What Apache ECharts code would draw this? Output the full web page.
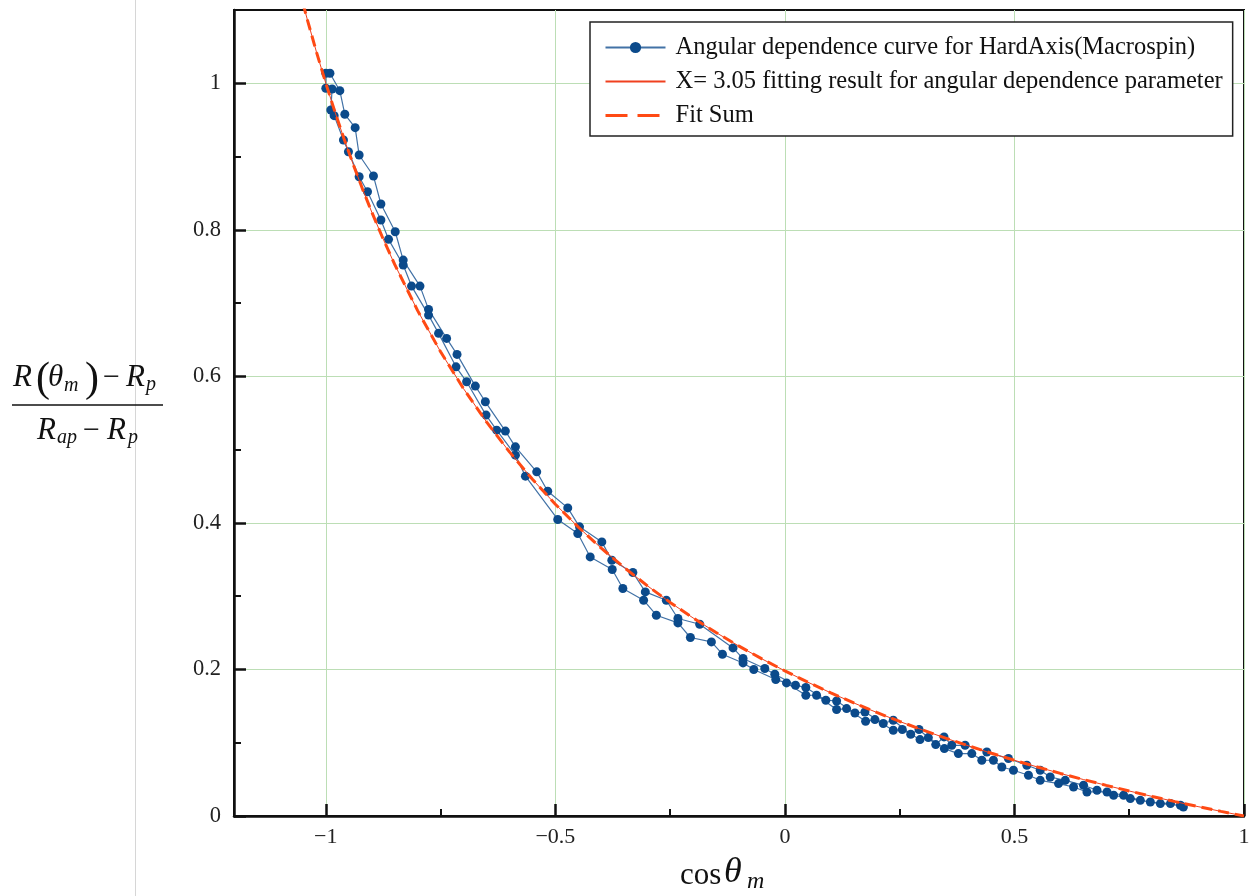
<!DOCTYPE html>
<html><head><meta charset="utf-8">
<script src="https://cdn.jsdelivr.net/npm/echarts@6/dist/echarts.min.js"></script>
<style>html,body{margin:0;padding:0;background:#fff}#c{width:1257px;height:896px}</style>
</head><body><div id="c"></div>
<script>
const xTicks = [-1, -0.5, 0, 0.5, 1];
const xMinorTicks = [-0.75, -0.25, 0.25, 0.75];
const yTicks = [0, 0.2, 0.4, 0.6, 0.8, 1];
const yMinorTicks = [0.1, 0.3, 0.5, 0.7, 0.9];
const seriesNames = [
  'Angular dependence curve for HardAxis(Macrospin)',
  'X= 3.05 fitting result for angular dependence parameter',
  'Fit Sum'
];
// measured sweep, forward branch
const sweepUpX = [-0.991,-0.9695,-0.9586,-0.9361,-0.9274,-0.8962,-0.880,-0.8488,-0.8314,-0.7949,-0.7762,-0.7369,-0.7142,-0.6743,-0.6525,-0.6089,-0.587,-0.5406,-0.5166,-0.473,-0.4474,-0.3988,-0.377,-0.3312,-0.3041,-0.2583,-0.233,-0.1856,-0.113,-0.0912,-0.0438,-0.022,0.0231,0.0456,0.0892,0.1126,0.1525,0.1743,0.2142,0.236,0.274,0.2921,0.3285,0.3466,0.3634,0.3925,0.4398,0.4869,0.527,0.5561,0.5779,0.6106,0.6505,0.6798,0.716,0.7524,0.796,0.8397,0.868];
const sweepUpY = [1.0137,0.9899,0.9577,0.9394,0.9021,0.8734,0.8352,0.7974,0.7587,0.7232,0.6914,0.6518,0.630,0.5867,0.5653,0.5253,0.5038,0.4697,0.4433,0.4205,0.3946,0.3741,0.3491,0.3323,0.3058,0.2945,0.2695,0.2617,0.2294,0.2149,0.2013,0.1935,0.1785,0.1753,0.158,0.157,0.1406,0.142,0.1262,0.1307,0.1116,0.118,0.0975,0.1079,0.0965,0.0965,0.0874,0.0784,0.0692,0.0624,0.0532,0.0487,0.0419,0.0351,0.0283,0.0238,0.0191,0.0169,0.0123];
// measured sweep, return branch (listed from cos=-1 side)
const sweepDownX = [-1.0,-1.0,-0.9863,-0.9891,-0.9819,-0.9616,-0.9507,-0.9274,-0.9092,-0.880,-0.8634,-0.8314,-0.8133,-0.7762,-0.7544,-0.7164,-0.6933,-0.651,-0.6278,-0.587,-0.5652,-0.4948,-0.4511,-0.4241,-0.3761,-0.353,-0.3078,-0.2801,-0.233,-0.2059,-0.1601,-0.1361,-0.0912,-0.0678,-0.0199,0.0035,0.0456,0.0689,0.1126,0.1344,0.1758,0.1961,0.236,0.2557,0.2943,0.3124,0.3473,0.3778,0.4071,0.4289,0.4542,0.4725,0.4978,0.5305,0.5561,0.596,0.6287,0.6579,0.7016,0.7378,0.7742,0.8178,0.8615];
const sweepDownY = [1.0137,0.9932,0.9922,0.9635,0.9558,0.9226,0.9066,0.8725,0.852,0.8134,0.787,0.7519,0.7232,0.6836,0.6587,0.613,0.5926,0.5471,0.5266,0.4925,0.4638,0.4047,0.3856,0.3536,0.3364,0.3105,0.2945,0.274,0.2635,0.2436,0.2376,0.2208,0.2089,0.1999,0.1862,0.1816,0.1648,0.1648,0.1453,0.1466,0.1293,0.1316,0.117,0.118,0.1043,0.107,0.092,0.0852,0.0852,0.0761,0.0761,0.0669,0.0624,0.0556,0.0487,0.0442,0.0396,0.0328,0.0328,0.0283,0.0214,0.0169,0.0146];
// fit curve
const fitX = [-1.05,-1.04,-1.02,-1.0,-0.98,-0.96,-0.94,-0.92,-0.9,-0.875,-0.85,-0.8,-0.75,-0.7,-0.65,-0.6,-0.55,-0.5,-0.45,-0.4,-0.35,-0.3,-0.25,-0.2,-0.15,-0.1,-0.05,0,0.05,0.1,0.15,0.2,0.25,0.3,0.35,0.4,0.45,0.5,0.55,0.6,0.65,0.7,0.75,0.8,0.85,0.9,0.95,1.0];
const fitY = [1.1096,1.0863,1.0418,1.0,0.9607,0.9237,0.8887,0.8556,0.8243,0.7874,0.7528,0.6897,0.6335,0.5832,0.5379,0.4969,0.4596,0.4255,0.3943,0.3655,0.3390,0.3144,0.2915,0.2703,0.2504,0.2318,0.2144,0.1980,0.1826,0.1681,0.1543,0.1413,0.1290,0.1174,0.1063,0.0957,0.0856,0.0760,0.0669,0.0581,0.0498,0.0418,0.0341,0.0267,0.0196,0.0128,0.0063,0];

const measured = [];
sweepUpX.forEach((x, i) => measured.push([x, sweepUpY[i]]));
for (let i = sweepDownX.length - 1; i >= 0; i--) measured.push([sweepDownX[i], sweepDownY[i]]);
const fit = fitX.map((x, i) => [x, fitY[i]]);

const FONT = 'Liberation Serif';
const fmt = v => String(Math.round(v * 100) / 100).replace('-', '\u2212');
const axisCol = '#111';
const gridCol = '#bcdeb5';

const chart = echarts.init(document.getElementById('c'), null, {renderer: 'canvas'});
function txt(text, x, y, size, italic, extra) {
  return Object.assign({
    type: 'text', z: 10,
    style: { text: text, x: x, y: y, fill: '#111', align: 'left', verticalAlign: 'middle',
      font: (italic ? 'italic ' : '') + size + 'px "' + FONT + '"' }
  }, extra || {});
}
chart.setOption({
  animation: false,
  backgroundColor: '#fff',
  grid: { left: 234, right: 13, top: 10, bottom: 80, show: true, borderColor: axisCol, borderWidth: 2, containLabel: false },
  legend: {
    orient: 'vertical', left: 590, top: 22, padding: [13, 10, 8, 14], itemGap: 9,
    itemWidth: 60, itemHeight: 14,
    borderColor: '#222', borderWidth: 1.5, backgroundColor: '#fff',
    textStyle: { fontFamily: FONT, fontSize: 24.5, color: '#111', lineHeight: 24, padding: [0, 0, 0, 5] },
    data: [
      { name: seriesNames[0] },
      { name: seriesNames[1], itemStyle: { opacity: 0 } },
      { name: seriesNames[2], itemStyle: { opacity: 0 }, lineStyle: { type: [22, 10], width: 3 } }
    ]
  },
  xAxis: [{
    type: 'value', min: -1.2, max: 1, gridIndex: 0,
    axisLine: { onZero: false, lineStyle: { color: axisCol, width: 2.5 } },
    axisTick: { inside: true, length: 12, customValues: xTicks, lineStyle: { color: axisCol, width: 2.5 } },
    axisLabel: { customValues: xTicks, formatter: fmt, margin: 10, fontFamily: FONT, fontSize: 22, color: '#222' },
    splitLine: { show: true, lineStyle: { color: gridCol, width: 1 } }
  }, {
    type: 'value', min: -1.2, max: 1, gridIndex: 0, position: 'bottom',
    axisLine: { show: false, onZero: false },
    axisTick: { inside: true, length: 7, customValues: xMinorTicks, lineStyle: { color: axisCol, width: 2 } },
    axisLabel: { show: false },
    splitLine: { show: false }
  }],
  yAxis: [{
    type: 'value', min: 0, max: 1.1, gridIndex: 0,
    axisLine: { onZero: false, lineStyle: { color: axisCol, width: 2.5 } },
    axisTick: { inside: true, length: 12, customValues: yTicks, lineStyle: { color: axisCol, width: 2.5 } },
    axisLabel: { customValues: yTicks, formatter: fmt, margin: 13, fontFamily: FONT, fontSize: 22.5, color: '#222' },
    splitLine: { show: true, lineStyle: { color: gridCol, width: 1 } }
  }, {
    type: 'value', min: 0, max: 1.1, gridIndex: 0, position: 'left',
    axisLine: { show: false, onZero: false },
    axisTick: { inside: true, length: 7, customValues: yMinorTicks, lineStyle: { color: axisCol, width: 2 } },
    axisLabel: { show: false },
    splitLine: { show: false }
  }],
  series: [{
    name: seriesNames[0], type: 'line', data: measured, xAxisIndex: 0, yAxisIndex: 0,
    symbol: 'circle', symbolSize: 9, showSymbol: true,
    itemStyle: { color: '#0b4a8b' },
    lineStyle: { color: '#4272a6', width: 1.2 }, z: 2
  }, {
    name: seriesNames[1], type: 'line', data: fit, symbol: 'none', showSymbol: false,
    itemStyle: { color: '#f0401f' },
    lineStyle: { color: '#f0401f', width: 1 }, z: 3
  }, {
    name: seriesNames[2], type: 'line', data: fit, symbol: 'none', showSymbol: false,
    itemStyle: { color: '#ff4a14' },
    lineStyle: { color: '#ff4a14', width: 3, type: [11, 6] }, z: 4
  }],
  graphic: [
    { type: 'line', z: 0, shape: { x1: 135.5, y1: 0, x2: 135.5, y2: 896 }, style: { stroke: '#d6d6d6', lineWidth: 1 } },
    txt('R', 13, 378, 31, true),
    txt('(', 36, 380, 42, false),
    txt('\u03b8', 48, 378, 31, true),
    txt('m', 64, 386, 20, true),
    txt(')', 85, 380, 42, false),
    txt('\u2212', 103, 378, 30, false),
    txt('R', 126, 378, 31, true),
    txt('p', 146, 385, 20, true),
    { type: 'line', z: 10, shape: { x1: 12, y1: 405, x2: 163, y2: 405 }, style: { stroke: '#111', lineWidth: 1.5 } },
    txt('R', 37, 431, 31, true),
    txt('ap', 57, 438, 20, true),
    txt('\u2212', 83, 431, 30, false),
    txt('R', 107, 431, 31, true),
    txt('p', 128, 438, 20, true),
    txt('cos', 680, 876, 31, false),
    txt('\u03b8', 724, 873, 36, true),
    txt('m', 747, 882, 24, true)
  ]
});
</script></body></html>
